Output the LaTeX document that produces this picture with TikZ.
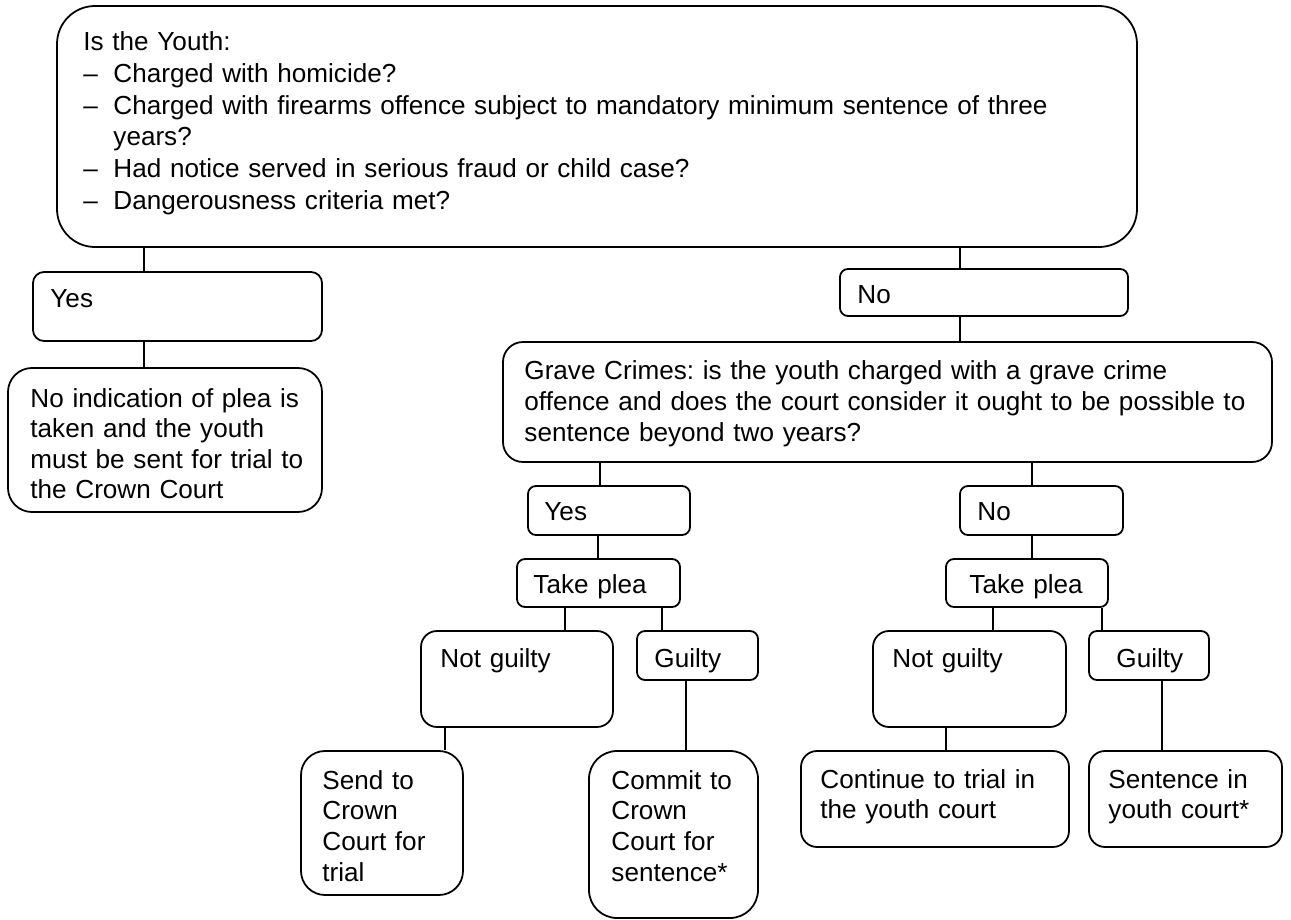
\documentclass[tikz,border=0pt]{standalone}
\usepackage{fontspec}
\setmainfont{Liberation Sans}
\usetikzlibrary{fit}

\newcommand{\pxlen}{0.45pt}
\tikzset{
  box/.style={draw, line width=0.8pt, inner sep=0pt, rounded corners={#1*\pxlen}},
  txt/.style={inner sep=0pt, anchor=base west, align=left, text width={#1*\pxlen},
    font=\fontsize{11.75pt}{13.8pt}\selectfont\frenchspacing},
  link/.style={line width=0.8pt}
}

\begin{document}
\begin{tikzpicture}[x=0.45pt,y=-0.45pt]
  \path[fill=white,use as bounding box] (0,0) rectangle (1291,920);

  % first question
  \node[box=38, fit={(57,6) (1137,247)}] (youth) {};
  \node[txt=1040] (youthtxt) at (83,51) {Is the Youth:\\[0.6pt]
    \makebox[13.5pt][l]{\textendash}Charged with homicide?\\[0.6pt]
    \makebox[13.5pt][l]{\textendash}Charged with firearms offence subject to mandatory minimum sentence of three\\
    \hspace*{13.5pt}years?\\[0.6pt]
    \makebox[13.5pt][l]{\textendash}Had notice served in serious fraud or child case?\\[0.6pt]
    \makebox[13.5pt][l]{\textendash}Dangerousness criteria met?};

  % left branch
  \node[box=11, fit={(33,272) (322,341)}] (yesA) {};
  \node[txt=260] (yesAtxt) at (50,307) {Yes};
  \node[box=24, fit={(8,368) (322,512)}] (noplea) {};
  \node[txt=285] (noplealtxt) at (30,407) {No indication of plea is\\taken and the youth\\must be sent for trial to\\the Crown Court};

  % right branch
  \node[box=8, fit={(840,269) (1128,316)}] (noA) {};
  \node[txt=260] (noAtxt) at (857,304) {No};
  \node[box=20, fit={(503,342) (1272,462)}] (grave) {};
  \node[txt=740] (gravetxt) at (524,380) {Grave Crimes: is the youth charged with a grave crime\\offence and does the court consider it ought to be possible to\\sentence beyond two years?};

  % grave crime yes / no
  \node[box=8, fit={(528,486) (690,535)}] (yesB) {};
  \node[txt=140] (yesBtxt) at (544,520) {Yes};
  \node[box=8, fit={(960,486) (1123,535)}] (noB) {};
  \node[txt=140] (noBtxt) at (977,520) {No};

  % plea
  \node[box=8, fit={(517,559) (680,607)}] (pleaA) {};
  \node[txt=140] (pleaAtxt) at (533,593) {Take plea};
  \node[box=8, fit={(946,559) (1108,607)}] (pleaB) {};
  \node[txt=130] (pleaBtxt) at (969,593) {Take plea};

  \node[box=16, fit={(421,631) (613,727)}] (notgA) {};
  \node[txt=165] (notgAtxt) at (440,667) {Not guilty};
  \node[box=8, fit={(637,631) (758,680)}] (guiltyA) {};
  \node[txt=100] (guiltyAtxt) at (654,667) {Guilty};
  \node[box=16, fit={(873,631) (1066,727)}] (notgB) {};
  \node[txt=165] (notgBtxt) at (892,667) {Not guilty};
  \node[box=8, fit={(1089,631) (1209,680)}] (guiltyB) {};
  \node[txt=90] (guiltyBtxt) at (1116,667) {Guilty};

  % outcomes
  \node[box=24, fit={(301,751) (463,895)}] (send) {};
  \node[txt=135] (sendtxt) at (322,789) {Send to\\Crown\\Court for\\trial};
  \node[box=28, fit={(589,751) (758,918)}] (commit) {};
  \node[txt=140] (committxt) at (611,789) {Commit to\\Crown\\Court for\\sentence*};
  \node[box=16, fit={(801,751) (1069,847)}] (trial) {};
  \node[txt=240] (trialtxt) at (820,788) {Continue to trial in\\the youth court};
  \node[box=16, fit={(1089,751) (1282,847)}] (sentence) {};
  \node[txt=165] (sentencetxt) at (1108,788) {Sentence in\\youth court*};

  % connectors
  \draw[link] (144,0 |- youth.south) -- (144,0 |- yesA.north);
  \draw[link] (144,0 |- yesA.south) -- (144,0 |- noplea.north);
  \draw[link] (960,0 |- youth.south) -- (960,0 |- noA.north);
  \draw[link] (960,0 |- noA.south) -- (960,0 |- grave.north);
  \draw[link] (600,0 |- grave.south) -- (600,0 |- yesB.north);
  \draw[link] (1032,0 |- grave.south) -- (1032,0 |- noB.north);
  \draw[link] (598,0 |- yesB.south) -- (598,0 |- pleaA.north);
  \draw[link] (1032,0 |- noB.south) -- (1032,0 |- pleaB.north);
  \draw[link] (565,0 |- pleaA.south) -- (565,0 |- notgA.north);
  \draw[link] (662,0 |- pleaA.south) -- (662,0 |- guiltyA.north);
  \draw[link] (993,0 |- pleaB.south) -- (993,0 |- notgB.north);
  \draw[link] (1102,0 |- pleaB.south) -- (1102,0 |- guiltyB.north);
  \draw[link] (445,0 |- notgA.south) -- (445,0 |- send.north);
  \draw[link] (686,0 |- guiltyA.south) -- (686,0 |- commit.north);
  \draw[link] (946,0 |- notgB.south) -- (946,0 |- trial.north);
  \draw[link] (1162,0 |- guiltyB.south) -- (1162,0 |- sentence.north);
\end{tikzpicture}
\end{document}
